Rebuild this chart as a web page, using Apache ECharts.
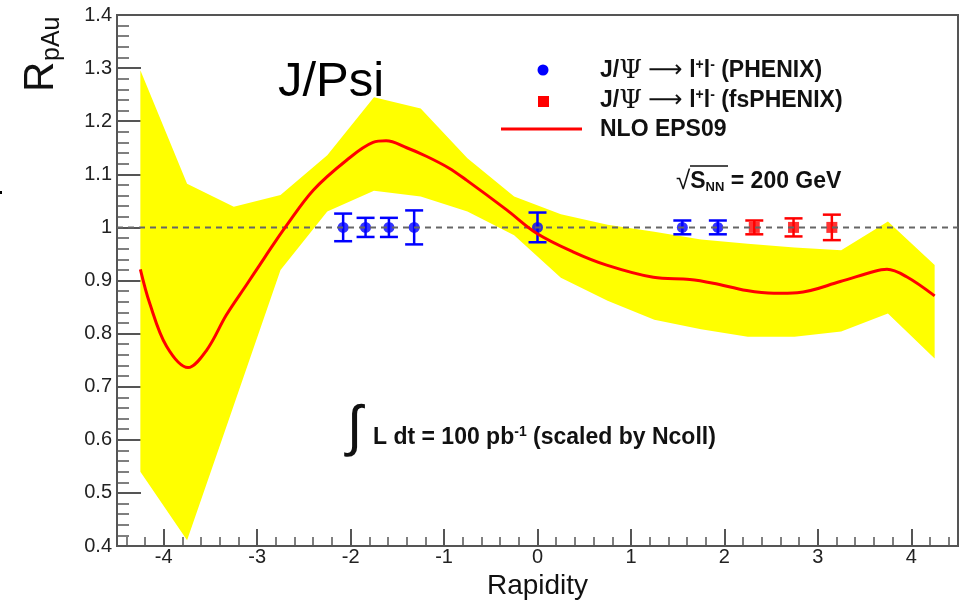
<!DOCTYPE html>
<html>
<head>
<meta charset="utf-8">
<script src="https://cdn.jsdelivr.net/npm/echarts@6/dist/echarts.min.js"></script>
<style>
  html, body { margin: 0; padding: 0; background: #fff; }
  #chart { width: 963px; height: 602px; }
</style>
</head>
<body>
<div id="chart"></div>
<script>
// Rapidity axis ticks
const rapidityTicks = [-4, -3, -2, -1, 0, 1, 2, 3, 4];

// J/psi -> l+l- projected points (PHENIX)
const phenixY = [-2.08, -1.84, -1.59, -1.32, 0.0, 1.55, 1.93];
const phenixR = [1.0, 1.0, 1.0, 1.0, 1.0, 1.0, 1.0];
const phenixErr = [0.026, 0.018, 0.018, 0.032, 0.028, 0.013, 0.013];

// J/psi -> l+l- projected points (fsPHENIX)
const fsphenixY = [2.32, 2.74, 3.15];
const fsphenixR = [1.0, 1.0, 1.0];
const fsphenixErr = [0.013, 0.017, 0.024];

// NLO EPS09 central curve
const nloY = [-4.25, -4.15, -3.97, -3.74, -3.54, -3.33, -3.11, -2.97, -2.83, -2.70, -2.40, -2.04,
  -1.76, -1.62, -1.40, -1.19, -0.95, -0.76, -0.33, -0.01, 0.38, 0.74, 1.24, 1.63, 1.88, 2.24,
  2.53, 2.78, 3.24, 3.60, 3.74, 3.95, 4.25];
const nloR = [0.921, 0.857, 0.776, 0.736, 0.769, 0.835, 0.893, 0.930, 0.967, 1.000, 1.070, 1.127,
  1.160, 1.163, 1.150, 1.134, 1.112, 1.089, 1.033, 0.989, 0.954, 0.929, 0.906, 0.902, 0.895, 0.881,
  0.876, 0.877, 0.898, 0.917, 0.921, 0.907, 0.871];

// EPS09 uncertainty band
const bandY = [-4.25, -3.75, -3.25, -2.75, -2.25, -1.75, -1.25, -0.75, -0.25, 0.25, 0.75,
  1.25, 1.75, 2.25, 2.75, 3.25, 3.75, 4.25];
const bandUpper = [1.296, 1.082, 1.039, 1.061, 1.136, 1.245, 1.224, 1.130, 1.058, 1.025, 1.005,
  0.992, 0.977, 0.969, 0.962, 0.957, 1.011, 0.929];
const bandLower = [0.540, 0.411, 0.665, 0.920, 1.030, 1.069, 1.058, 1.030, 0.985, 0.905, 0.862,
  0.826, 0.808, 0.794, 0.794, 0.804, 0.838, 0.753];

// Reference line R = 1
const unityY = [-4.5, 4.5];
const unityR = [1.0, 1.0];

const FONT = "'Liberation Sans', Arial, Helvetica, sans-serif";
const AXIS_COLOR = '#555';
const TEXT_COLOR = '#111';

// minor rapidity ticks every 0.2, skipping the labelled integers
const minorTicks = [];
for (let k = -22; k <= 22; k++) {
  if (k % 5 !== 0) minorTicks.push(+(k * 0.2).toFixed(1));
}

function errorBarItem(color) {
  return function (params, api) {
    const x = api.value(0), y = api.value(1), e = api.value(2);
    const top = api.coord([x, y + e]);
    const bot = api.coord([x, y - e]);
    const hw = 9;
    const st = { stroke: color, lineWidth: 2.5 };
    return {
      type: 'group',
      children: [
        { type: 'line', shape: { x1: top[0], y1: top[1], x2: bot[0], y2: bot[1] }, style: st },
        { type: 'line', shape: { x1: top[0] - hw, y1: top[1], x2: top[0] + hw, y2: top[1] }, style: st },
        { type: 'line', shape: { x1: bot[0] - hw, y1: bot[1], x2: bot[0] + hw, y2: bot[1] }, style: st }
      ]
    };
  };
}

// rich-text styles shared by the bold annotations
const richBold = {
  a: { font: 'bold 23px ' + FONT, fill: TEXT_COLOR },
  psi: { font: '26px DejaVu Serif', fill: TEXT_COLOR },
  arr: { font: '24px DejaVu Sans', fill: TEXT_COLOR },
  sup: { font: 'bold 14px ' + FONT, fill: TEXT_COLOR, padding: [0, 0, 11, 0] },
  sub: { font: 'bold 13px ' + FONT, fill: TEXT_COLOR, padding: [11, 0, 0, 0] },
  root: { font: '26px ' + FONT, fill: TEXT_COLOR }
};

const chart = echarts.init(document.getElementById('chart'), null, { renderer: 'canvas' });

const option = {
  animation: false,
  backgroundColor: '#fff',
  grid: {
    left: 117, right: 5, top: 15, bottom: 56,
    outerBoundsMode: 'none',
    containLabel: false,
    show: true, borderColor: AXIS_COLOR, borderWidth: 2, backgroundColor: 'transparent'
  },
  xAxis: [
    {
      type: 'value', min: -4.5, max: 4.5,
      name: 'Rapidity', nameLocation: 'middle', nameGap: 21,
      nameTextStyle: { fontFamily: FONT, fontSize: 28, color: TEXT_COLOR },
      axisLine: { onZero: false, lineStyle: { color: AXIS_COLOR, width: 2 } },
      axisTick: { inside: true, length: 17, customValues: rapidityTicks, lineStyle: { color: AXIS_COLOR, width: 2 } },
      axisLabel: { customValues: rapidityTicks, margin: 1, fontFamily: FONT, fontSize: 20, color: '#222' },
      splitLine: { show: false }
    },
    {
      type: 'value', min: -4.5, max: 4.5, position: 'bottom',
      axisLine: { show: false, onZero: false },
      axisTick: { inside: true, length: 9, customValues: minorTicks, lineStyle: { color: AXIS_COLOR, width: 1.5 } },
      axisLabel: { show: false },
      splitLine: { show: false }
    }
  ],
  yAxis: {
    type: 'value', min: 0.4, max: 1.4, interval: 0.1,
    axisLine: { onZero: false, lineStyle: { color: AXIS_COLOR, width: 2 } },
    axisTick: { inside: true, length: 24, lineStyle: { color: AXIS_COLOR, width: 2 } },
    minorTick: { show: true, splitNumber: 5, length: 12, lineStyle: { color: AXIS_COLOR, width: 1.5 } },
    axisLabel: {
      margin: 5, fontFamily: FONT, fontSize: 20, color: '#222',
      formatter: v => String(+v.toFixed(1))
    },
    splitLine: { show: false }
  },
  series: [
    {
      name: 'EPS09 band',
      type: 'custom',
      xAxisIndex: 0,
      silent: true,
      data: bandY.map((x, i) => [x, bandLower[i], bandUpper[i]]),
      encode: { x: 0, y: [1, 2] },
      renderItem: function (params, api) {
        if (params.dataIndex !== 0) return null;
        const pts = [];
        for (let i = 0; i < bandY.length; i++) pts.push(api.coord([bandY[i], bandUpper[i]]));
        for (let i = bandY.length - 1; i >= 0; i--) pts.push(api.coord([bandY[i], bandLower[i]]));
        return { type: 'polygon', shape: { points: pts }, style: { fill: '#ffff00' } };
      }
    },
    {
      name: 'unity',
      type: 'line',
      xAxisIndex: 0,
      data: unityY.map((x, i) => [x, unityR[i]]),
      symbol: 'none',
      lineStyle: { color: '#666', width: 2, type: [6, 5] },
      silent: true
    },
    {
      name: 'NLO EPS09',
      type: 'line',
      xAxisIndex: 0,
      data: nloY.map((x, i) => [x, nloR[i]]),
      smooth: 0.35,
      symbol: 'none',
      lineStyle: { color: '#ff0000', width: 3 },
      silent: true
    },
    {
      name: 'PHENIX errors',
      type: 'custom',
      xAxisIndex: 0,
      data: phenixY.map((x, i) => [x, phenixR[i], phenixErr[i]]),
      encode: { x: 0, y: 1 },
      renderItem: errorBarItem('#0000ff'),
      silent: true
    },
    {
      name: 'fsPHENIX errors',
      type: 'custom',
      xAxisIndex: 0,
      data: fsphenixY.map((x, i) => [x, fsphenixR[i], fsphenixErr[i]]),
      encode: { x: 0, y: 1 },
      renderItem: errorBarItem('#ff0000'),
      silent: true
    },
    {
      name: 'PHENIX',
      type: 'scatter',
      xAxisIndex: 0,
      data: phenixY.map((x, i) => [x, phenixR[i]]),
      symbol: 'circle', symbolSize: 11,
      itemStyle: { color: '#0000ff' },
      silent: true
    },
    {
      name: 'fsPHENIX',
      type: 'scatter',
      xAxisIndex: 0,
      data: fsphenixY.map((x, i) => [x, fsphenixR[i]]),
      symbol: 'rect', symbolSize: 11,
      itemStyle: { color: '#ff0000' },
      silent: true
    }
  ],
  graphic: [
    // stray mark at the left edge
    { type: 'rect', shape: { x: 0, y: 191, width: 2, height: 3 }, style: { fill: '#000' } },
    // y axis title
    {
      type: 'text', x: 41, y: 92, rotation: Math.PI / 2,
      style: { text: 'R', font: '42px ' + FONT, fill: TEXT_COLOR, align: 'left', verticalAlign: 'middle' }
    },
    {
      type: 'text', x: 52, y: 61, rotation: Math.PI / 2,
      style: { text: 'pAu', font: '25px ' + FONT, fill: TEXT_COLOR, align: 'left', verticalAlign: 'middle' }
    },
    // panel title
    {
      type: 'text', x: 278, y: 82,
      style: { text: 'J/Psi', font: '49px ' + FONT, fill: '#000', align: 'left', verticalAlign: 'middle' }
    },
    // legend
    { type: 'circle', shape: { cx: 543, cy: 70, r: 5.5 }, style: { fill: '#0000ff' } },
    { type: 'rect', shape: { x: 538, y: 96, width: 11, height: 11 }, style: { fill: '#ff0000' } },
    { type: 'line', shape: { x1: 501, y1: 129, x2: 582, y2: 129 }, style: { stroke: '#ff0000', lineWidth: 3 } },
    {
      type: 'text', x: 600, y: 71,
      style: {
        text: '{a|J/}{psi|Ψ}{a| }{arr|⟶}{a| l}{sup|+}{a|l}{sup|-}{a| (PHENIX)}',
        verticalAlign: 'middle', align: 'left', rich: richBold
      }
    },
    {
      type: 'text', x: 600, y: 101,
      style: {
        text: '{a|J/}{psi|Ψ}{a| }{arr|⟶}{a| l}{sup|+}{a|l}{sup|-}{a| (fsPHENIX)}',
        verticalAlign: 'middle', align: 'left', rich: richBold
      }
    },
    {
      type: 'text', x: 600, y: 130,
      style: { text: 'NLO EPS09', font: 'bold 23px ' + FONT, fill: TEXT_COLOR, align: 'left', verticalAlign: 'middle' }
    },
    // collision energy
    {
      type: 'text', x: 676, y: 182,
      style: {
        text: '{root|√}{a|S}{sub|NN}{a| = 200 GeV}',
        verticalAlign: 'middle', align: 'left', rich: richBold
      }
    },
    { type: 'line', shape: { x1: 690, y1: 166, x2: 728, y2: 166 }, style: { stroke: TEXT_COLOR, lineWidth: 1.5 } },
    // integrated luminosity
    {
      type: 'text', x: 347, y: 430,
      style: { text: '∫', font: '56px ' + FONT, fill: TEXT_COLOR, align: 'left', verticalAlign: 'middle' }
    },
    {
      type: 'text', x: 373, y: 438,
      style: {
        text: '{a|L dt = 100 pb}{sup|-1}{a| (scaled by Ncoll)}',
        verticalAlign: 'middle', align: 'left', rich: richBold
      }
    }
  ]
};

chart.setOption(option);
</script>
</body>
</html>
